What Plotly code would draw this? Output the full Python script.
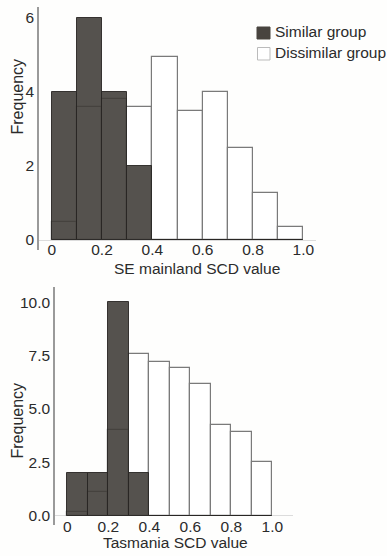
import plotly.graph_objects as go

# ---- data ----
bin_left = [0.0, 0.1, 0.2, 0.3, 0.4, 0.5, 0.6, 0.7, 0.8, 0.9]

se_similar = [4.0, 6.0, 4.0, 2.0, 0, 0, 0, 0, 0, 0]
se_dissimilar = [0.48, 3.59, 3.81, 3.6, 4.94, 3.49, 3.99, 2.48, 1.26, 0.36]

tas_similar = [2.0, 2.0, 10.0, 2.0, 0, 0, 0, 0, 0, 0]
tas_dissimilar = [0.16, 1.11, 4.03, 7.56, 7.19, 6.9, 6.17, 4.24, 3.91, 2.53]

se_yticks = [0, 2, 4, 6]
tas_yticks = [0.0, 2.5, 5.0, 7.5, 10.0]
x_ticks = [0, 0.2, 0.4, 0.6, 0.8, 1.0]
x_ticklabels = ["0", "0.2", "0.4", "0.6", "0.8", "1.0"]

# ---- style ----
W, H = 387, 556
FONT = "Liberation Sans, Arial, sans-serif"
TXT = "#2b2b2b"
DARK = "rgba(62,58,54,0.88)"
DIS_LINE = "#7a7a7a"

fig = go.Figure()

def add_panel(sim, dis, xa, ya):
    fig.add_trace(go.Bar(x=bin_left, y=dis, width=0.1, offset=0,
                         marker=dict(color="rgba(255,255,255,1)",
                                     line=dict(color=DIS_LINE, width=1.2)),
                         xaxis=xa, yaxis=ya, showlegend=False))
    fig.add_trace(go.Bar(x=bin_left, y=sim, width=0.1, offset=0,
                         marker=dict(color=DARK, line=dict(color="rgba(40,38,36,0.9)", width=1)),
                         xaxis=xa, yaxis=ya, showlegend=False))

add_panel(se_similar, se_dissimilar, "x", "y")
add_panel(tas_similar, tas_dissimilar, "x2", "y2")

def px_x(p):
    return p / W

def px_y(p):
    return 1 - p / H

TS = 15.5
axis_common = dict(showgrid=False, ticks="", tickfont=dict(family=FONT, size=TS, color=TXT))

# top panel: x=0 at 51.7px, x=1 at 303.3px; y=0 at 240px, 37px/unit
t_x0, t_x1 = 39, 316
t_ppu = 251.6
t_y_top, t_y_bot = 7, 250
fig.update_layout(
    xaxis=dict(domain=[px_x(t_x0), px_x(t_x1)],
               range=[(t_x0 - 51.7) / t_ppu, (t_x1 - 51.7) / t_ppu],
               tickvals=x_ticks, ticktext=x_ticklabels, showline=False,
               zeroline=False, anchor="y", ticklabelstandoff=-12, **axis_common),
    yaxis=dict(domain=[px_y(t_y_bot), px_y(t_y_top)],
               range=[-(t_y_bot - 240) / 37.0, (240 - t_y_top) / 37.0],
               tickvals=se_yticks, showline=True, linecolor="#9a9a9a", linewidth=1.5,
               zeroline=True, zerolinecolor="#dcdcdc", zerolinewidth=1,
               anchor="x", ticklabelstandoff=0, **axis_common),
)

# bottom panel: x=0 at 67.3px, x=1 at 272.3px; y=0 at 515.7px, 21.34px/unit
b_x0, b_x1 = 55, 293
b_ppu = 205.0
b_y_top, b_y_bot = 287, 525
fig.update_layout(
    xaxis2=dict(domain=[px_x(b_x0), px_x(b_x1)],
                range=[(b_x0 - 67.3) / b_ppu, (b_x1 - 67.3) / b_ppu],
                tickvals=x_ticks, ticktext=x_ticklabels, showline=False,
                zeroline=False, anchor="y2", ticklabelstandoff=-10, **axis_common),
    yaxis2=dict(domain=[px_y(b_y_bot), px_y(b_y_top)],
                range=[-(b_y_bot - 515.7) / 21.34, (515.7 - b_y_top) / 21.34],
                tickvals=tas_yticks, tickformat=".1f", showline=True,
                linecolor="#9a9a9a", linewidth=1.5,
                zeroline=True, zerolinecolor="#dcdcdc", zerolinewidth=1,
                anchor="x2", ticklabelstandoff=0, **axis_common),
)

annos = []
tfont = dict(family=FONT, size=TS, color=TXT)
yfont = dict(family=FONT, size=16, color=TXT)
annos.append(dict(text="SE mainland SCD value", x=px_x(197), y=px_y(268), xref="paper", yref="paper",
                  showarrow=False, font=tfont, xanchor="center", yanchor="middle"))
annos.append(dict(text="Tasmania SCD value", x=px_x(175.5), y=px_y(542), xref="paper", yref="paper",
                  showarrow=False, font=tfont, xanchor="center", yanchor="middle"))
annos.append(dict(text="Frequency", x=px_x(16.5), y=px_y(97), xref="paper", yref="paper",
                  showarrow=False, font=yfont, textangle=-90, xanchor="center", yanchor="middle"))
annos.append(dict(text="Frequency", x=px_x(17), y=px_y(420.5), xref="paper", yref="paper",
                  showarrow=False, font=yfont, textangle=-90, xanchor="center", yanchor="middle"))
# legend text
annos.append(dict(text="Similar group", x=px_x(273), y=px_y(32), xref="paper", yref="paper",
                  showarrow=False, font=tfont, xanchor="left", yanchor="middle"))
annos.append(dict(text="Dissimilar group", x=px_x(273), y=px_y(53), xref="paper", yref="paper",
                  showarrow=False, font=tfont, xanchor="left", yanchor="middle"))

shapes = [
    dict(type="rect", xref="paper", yref="paper", x0=px_x(257), x1=px_x(270),
         y0=px_y(39), y1=px_y(27), fillcolor="#48443f", line=dict(color="#48443f", width=1)),
    dict(type="rect", xref="paper", yref="paper", x0=px_x(257.5), x1=px_x(270),
         y0=px_y(60), y1=px_y(47.5), fillcolor="white", line=dict(color="#bbbbbb", width=1)),
]

fig.update_layout(
    width=W, height=H, margin=dict(l=0, r=0, t=0, b=0),
    paper_bgcolor="#fefefd", plot_bgcolor="rgba(0,0,0,0)",
    barmode="overlay", bargap=0, showlegend=False,
    annotations=annos, shapes=shapes,
    font=dict(family=FONT, color=TXT),
)

fig.write_html("out.html")
